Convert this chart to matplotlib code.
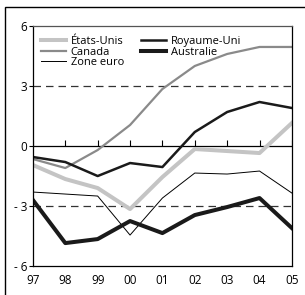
import numpy as np
import matplotlib.pyplot as plt
from matplotlib.patches import Rectangle

plt.rcParams['font.family'] = ['Open Sans', 'DejaVu Sans']

years = ['97', '98', '99', '00', '01', '02', '03', '04', '05']
etats_unis = [-0.95, -1.65, -2.1, -3.15, -1.55, -0.15, -0.25, -0.35, 1.15]
canada = [-0.65, -1.1, -0.2, 1.05, 2.85, 4.0, 4.6, 4.95, 4.95]
zone_euro = [-2.3, -2.4, -2.5, -4.45, -2.6, -1.35, -1.4, -1.25, -2.35]
royaume_uni = [-0.55, -0.8, -1.5, -0.85, -1.05, 0.7, 1.7, 2.2, 1.9]
australie = [-2.7, -4.85, -4.65, -3.75, -4.35, -3.45, -3.05, -2.6, -4.1]
yticks = [6, 3, 0, -3, -6]
ytick_labels = ['6', '3', '0', '- 3', '- 6']

x = np.arange(len(years))

fig = plt.figure(figsize=(3.05, 2.95), dpi=100)
ax = fig.add_axes([0.108, 0.098, 0.849, 0.814])

# cadre extérieur
fig.add_artist(Rectangle((5/305, -0.1), 1.2, 1.1 - 7/295, transform=fig.transFigure,
                         fill=False, lw=1.0, ec='black'))

ax.axhline(3, color='#333333', lw=0.9, dashes=(6, 4))
ax.axhline(-3, color='#333333', lw=0.9, dashes=(6, 4))
ax.axhline(0, color='black', lw=0.9)
ax.plot(x, np.zeros(len(x)), ls='none', marker=2, ms=4, mew=0.8, color='black')

l1, = ax.plot(x, etats_unis, color='#c4c4c4', lw=2.9, label='États-Unis')
l2, = ax.plot(x, canada, color='#8a8a8a', lw=1.6, label='Canada')
l3, = ax.plot(x, zone_euro, color='black', lw=0.7, label='Zone euro')
l4, = ax.plot(x, royaume_uni, color='#1a1a1a', lw=1.8, label='Royaume-Uni')
l5, = ax.plot(x, australie, color='#1a1a1a', lw=2.9, label='Australie')

ax.set_xlim(0, len(x) - 1)
ax.set_ylim(-6, 6)
ax.set_xticks(x)
ax.set_xticklabels(years)
ax.set_yticks(yticks)
ax.set_yticklabels(ytick_labels)
ax.tick_params(axis='x', length=0, pad=6, labelsize=8.5)
ax.tick_params(axis='y', length=3, width=0.8, pad=1, labelsize=8.5)
ax.spines['top'].set_color('#555555')
for s in ax.spines.values():
    s.set_linewidth(0.9)

leg = ax.legend(handles=[l1, l2, l3, l4, l5], ncol=2, loc='upper left',
                bbox_to_anchor=(0.0, 0.99), frameon=False, fontsize=8,
                handlelength=2.3, handletextpad=0.4, columnspacing=1.5,
                labelspacing=-0.05, borderaxespad=0.3)

fig.savefig('out.png', dpi=100)
